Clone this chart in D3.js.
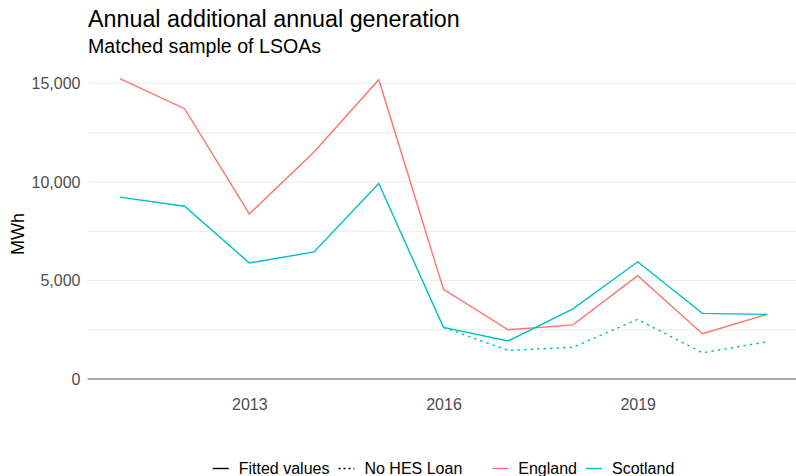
<!DOCTYPE html>
<html>
<head>
<meta charset="utf-8">
<script src="https://cdn.jsdelivr.net/npm/d3@7"></script>
<style>
  html, body { margin: 0; padding: 0; background: #ffffff; }
  svg { display: block; font-family: "Liberation Sans", Arial, Helvetica, sans-serif; }
</style>
</head>
<body>
<svg id="chart" width="796" height="476"></svg>
<script>
// Annual additional generation (MWh), matched sample of LSOAs
const years = [2011, 2012, 2013, 2014, 2015, 2016, 2017, 2018, 2019, 2020, 2021];
const england = [15250, 13720, 8380, 11520, 15190, 4550, 2500, 2750, 5240, 2300, 3280];
const scotland = [9230, 8770, 5890, 6450, 9920, 2620, 1930, 3560, 5950, 3330, 3280];
// Counterfactual for Scotland without HES loans, from 2016 onward
const noLoanYears = [2016, 2017, 2018, 2019, 2020, 2021];
const scotlandNoLoan = [2620, 1450, 1610, 3030, 1330, 1890];

const yTicks = [0, 5000, 10000, 15000];
const yMinor = [2500, 7500, 12500];
const xTicks = [2013, 2016, 2019];

const colours = { England: "#F8766D", Scotland: "#00BFC4" };

const svg = d3.select("#chart");
const W = 796, H = 476;
const panel = { left: 87.5, right: 799.5, top: 68, bottom: 394 };

const x = d3.scaleLinear().domain([2010.5, 2021.5]).range([panel.left, panel.right]);
const y = d3.scaleLinear().domain([0, 15000]).range([379, 83.5]);

// Grid lines
const grid = svg.append("g");
grid.selectAll("line.minor").data(yMinor).join("line")
  .attr("x1", panel.left).attr("x2", panel.right)
  .attr("y1", d => y(d)).attr("y2", d => y(d))
  .attr("stroke", "#ebebeb").attr("stroke-width", 1);
grid.selectAll("line.major").data(yTicks.filter(d => d !== 0)).join("line")
  .attr("x1", panel.left).attr("x2", panel.right)
  .attr("y1", d => y(d)).attr("y2", d => y(d))
  .attr("stroke", "#ebebeb").attr("stroke-width", 1.1);

// Zero reference line
svg.append("line")
  .attr("x1", panel.left).attr("x2", panel.right)
  .attr("y1", y(0)).attr("y2", y(0))
  .attr("stroke", "#8c8c8c").attr("stroke-width", 1.3);

// Axes (labels only, minimal theme)
const yAxis = d3.axisLeft(y).tickValues(yTicks).tickSize(0).tickPadding(7)
  .tickFormat(d3.format(","));
svg.append("g").attr("transform", `translate(${panel.left},0)`).call(yAxis)
  .call(g => g.select(".domain").remove())
  .call(g => g.selectAll("text")
    .attr("fill", "#4d4d4d").attr("font-size", 16)
    .attr("font-family", "Liberation Sans, Arial, sans-serif"));

const xAxis = d3.axisBottom(x).tickValues(xTicks).tickSize(0).tickPadding(10)
  .tickFormat(d3.format("d"));
svg.append("g").attr("transform", `translate(0,${y(0) + 10})`).call(xAxis)
  .call(g => g.select(".domain").remove())
  .call(g => g.selectAll("text")
    .attr("fill", "#4d4d4d").attr("font-size", 16)
    .attr("font-family", "Liberation Sans, Arial, sans-serif"));

// Lines
const line = d3.line().x(d => x(d[0])).y(d => y(d[1]));
svg.append("defs").append("clipPath").attr("id", "panel-clip")
  .append("rect").attr("x", panel.left).attr("y", 0)
  .attr("width", panel.right - panel.left).attr("height", H);
const lines = svg.append("g").attr("clip-path", "url(#panel-clip)");

lines.append("path")
  .datum(d3.zip(noLoanYears, scotlandNoLoan))
  .attr("d", line).attr("fill", "none")
  .attr("stroke", colours.Scotland).attr("stroke-width", 1.4)
  .attr("stroke-dasharray", "2.5,4");
lines.append("path")
  .datum(d3.zip(years, england))
  .attr("d", line).attr("fill", "none")
  .attr("stroke", colours.England).attr("stroke-width", 1.4);
lines.append("path")
  .datum(d3.zip(years, scotland))
  .attr("d", line).attr("fill", "none")
  .attr("stroke", colours.Scotland).attr("stroke-width", 1.4);

// Titles
svg.append("text").attr("x", 88).attr("y", 27)
  .attr("font-size", 23.3).attr("fill", "#000").text("Annual additional annual generation");
svg.append("text").attr("x", 88).attr("y", 52.5)
  .attr("font-size", 19.6).attr("fill", "#000").text("Matched sample of LSOAs");
svg.append("text")
  .attr("transform", `translate(24,${(panel.top + panel.bottom) / 2 + 3}) rotate(-90)`)
  .attr("text-anchor", "middle")
  .attr("font-size", 18).attr("fill", "#000").text("MWh");

// Legend: line type, then colour
const legendItems = [
  { label: "Fitted values", stroke: "#000", dash: null, gapAfter: 9 },
  { label: "No HES Loan", stroke: "#000", dash: "2,3", gapAfter: 30 },
  { label: "England", stroke: colours.England, dash: null, gapAfter: 9 },
  { label: "Scotland", stroke: colours.Scotland, dash: null, gapAfter: 0 }
];
const legend = svg.append("g");
const keyW = 16, keyGap = 10, legendBase = 474, legendFont = 16;
let cursor = 0;
legendItems.forEach(item => {
  const g = legend.append("g");
  g.append("line").attr("x1", cursor).attr("x2", cursor + keyW)
    .attr("y1", legendBase - 5.5).attr("y2", legendBase - 5.5)
    .attr("stroke", item.stroke).attr("stroke-width", 1.4)
    .attr("stroke-dasharray", item.dash);
  const t = g.append("text").attr("x", cursor + keyW + keyGap).attr("y", legendBase)
    .attr("font-size", legendFont).attr("fill", "#000").text(item.label);
  cursor += keyW + keyGap + t.node().getComputedTextLength() + item.gapAfter;
});
const legendCentre = (panel.left + panel.right) / 2;
legend.attr("transform", `translate(${legendCentre - cursor / 2},0)`);
</script>
</body>
</html>
